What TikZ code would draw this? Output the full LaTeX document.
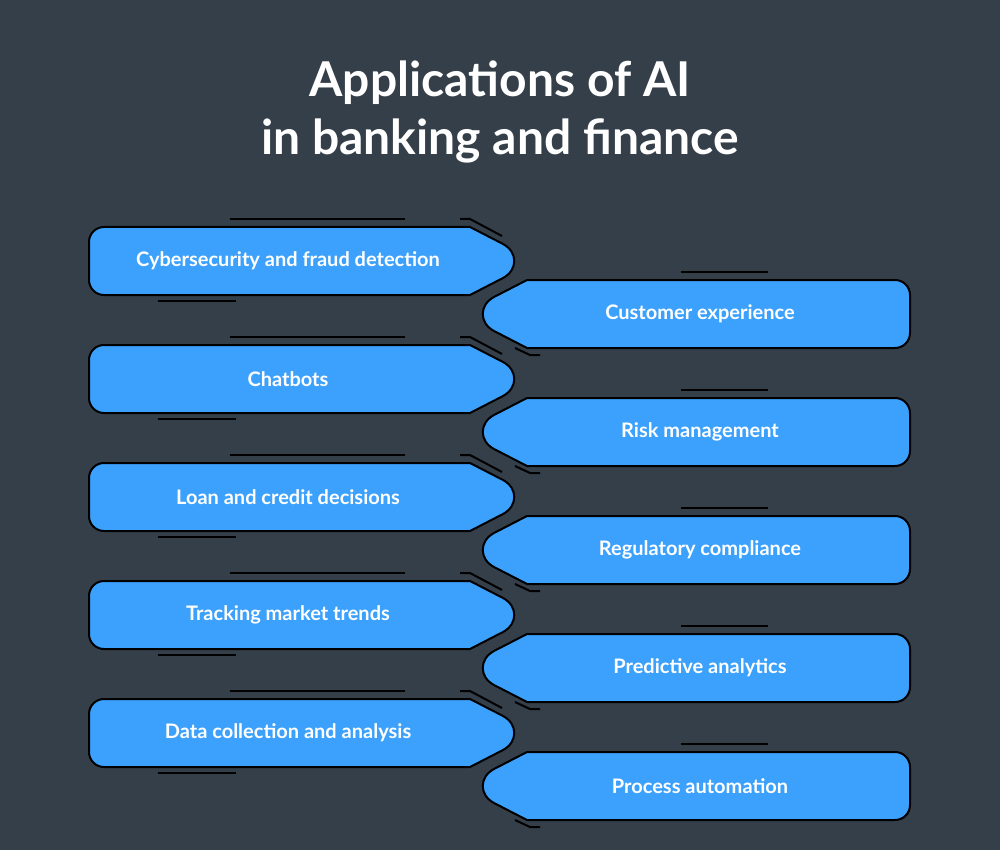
\documentclass[tikz,border=0pt]{standalone}
\usepackage{fontspec}
\setmainfont{Lato}
\definecolor{bg}{HTML}{343F4A}
\definecolor{boxblue}{HTML}{3BA1FD}
\begin{document}
\begin{tikzpicture}[x=1pt,y=-1pt,
  shp/.style={fill=boxblue,draw=black,line width=2pt},
  deco/.style={draw=black,line width=2pt},
  lbl/.style={text=white,font=\bfseries\fontsize{20}{24}\selectfont}]
\fill[bg] (0,0) rectangle (1000,850);
\useasboundingbox (0,0) rectangle (1000,850);
\node[text=white,font=\bfseries\fontsize{48}{58}\selectfont,align=center] (title) at (500,112) {Applications of AI\\in banking and finance};
\newcommand\leftbox[3]{%
  \draw[shp] (104,#1) -- (470,#1) -- (503,#1+17) .. controls (518,#1+25) and (518,#1+43) .. (503,#1+51) -- (470,#1+68) -- (104,#1+68) arc[start angle=90,end angle=180,radius=15] -- (89,#1+15) arc[start angle=180,end angle=270,radius=15] -- cycle;
  \node[lbl] (#3) at (288,#1+34) {#2};
  \draw[deco] (230,#1-8) -- (405,#1-8);
  \draw[deco] (460,#1-8) -- (470,#1-8) -- (502,#1+9);
  \draw[deco] (158,#1+74) -- (236,#1+74);}
\newcommand\rightbox[3]{%
  \draw[shp] (527,#1) -- (895,#1) arc[start angle=-90,end angle=0,radius=15] -- (910,#1+53) arc[start angle=0,end angle=90,radius=15] -- (527,#1+68) -- (494,#1+51) .. controls (479,#1+43) and (479,#1+25) .. (494,#1+17) -- cycle;
  \node[lbl] (#3) at (700,#1+34) {#2};
  \draw[deco] (681,#1-8) -- (768,#1-8);
  \draw[deco] (515,#1+68) -- (530,#1+75) -- (540,#1+75);}
\leftbox{227}{Cybersecurity and fraud detection}{l1}
\rightbox{280}{Customer experience}{r1}
\leftbox{345}{Chatbots}{l2}
\rightbox{398}{Risk management}{r2}
\leftbox{463}{Loan and credit decisions}{l3}
\rightbox{516}{Regulatory compliance}{r3}
\leftbox{581}{Tracking market trends}{l4}
\rightbox{634}{Predictive analytics}{r4}
\leftbox{699}{Data collection and analysis}{l5}
\rightbox{752}{Process automation}{r5}
\end{tikzpicture}
\end{document}
